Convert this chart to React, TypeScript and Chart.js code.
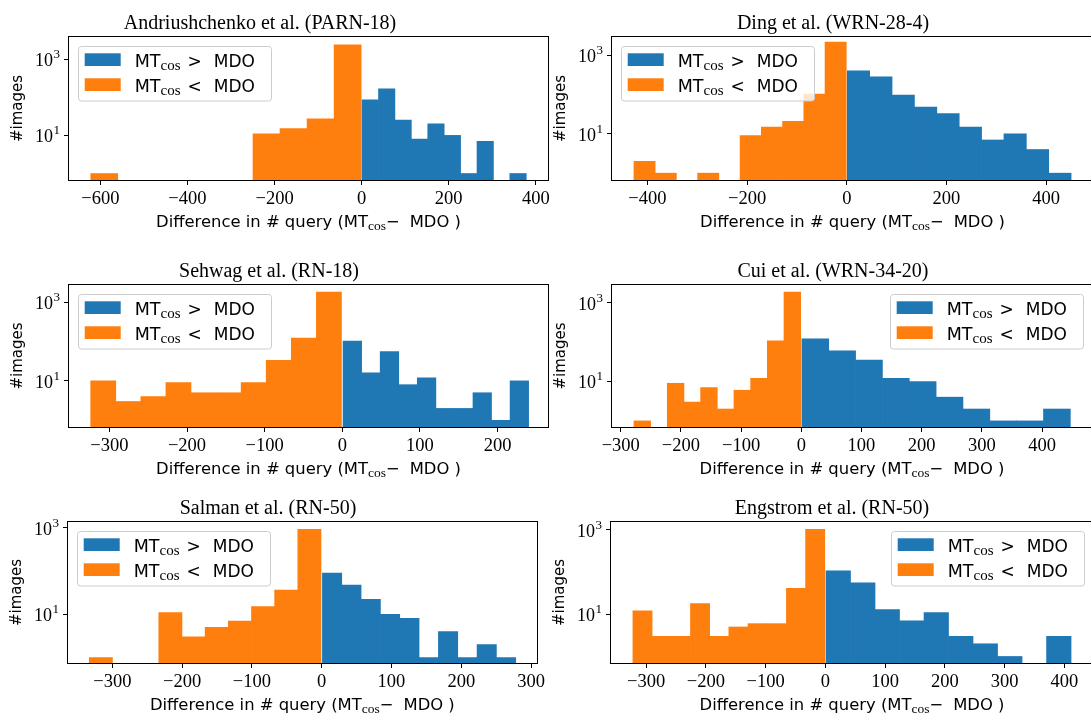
import React, { useEffect, useRef } from 'react';
import { Chart, registerables } from 'chart.js';

Chart.register(...registerables);

const BLUE = '#1f77b4';
const ORANGE = '#ff7f0e';
const SANS = "'DejaVu Sans'";
const SERIF = "'Liberation Serif'";

const panelTitles = [
  'Andriushchenko et al. (PARN-18)',
  'Ding et al. (WRN-28-4)',
  'Sehwag et al. (RN-18)',
  'Cui et al. (WRN-34-20)',
  'Salman et al. (RN-50)',
  'Engstrom et al. (RN-50)',
];

// ---- Panel 1: Andriushchenko et al. (PARN-18)
const p1NegBins = [-591.0, -528.9, -466.8, -404.7, -342.6, -280.5, -218.4, -156.3, -94.2, -32.1];
const p1NegCounts = [1, 0, 0, 0, 0, 0, 11, 15, 27, 2374];
const p1PosBins = [19.9, 57.6, 95.3, 133.0, 170.7, 208.4, 246.1, 283.8, 321.5, 359.2];
const p1PosCounts = [86, 167, 25, 8, 20, 10, 1, 7, 0, 1];
const p1XTicks = [-600, -400, -200, 0, 200, 400];

// ---- Panel 2: Ding et al. (WRN-28-4)
const p2NegBins = [-405.7, -363.1, -320.5, -277.9, -235.3, -192.7, -150.1, -107.5, -64.9, -22.3];
const p2NegCounts = [2, 1, 0, 1, 0, 9, 15, 21, 103, 2163];
const p2PosBins = [23.5, 68.4, 113.3, 158.2, 203.1, 248.0, 292.9, 337.8, 382.7, 427.6];
const p2PosCounts = [403, 282, 97, 48, 33, 15, 7, 10, 4, 1];
const p2XTicks = [-400, -200, 0, 200, 400];

// ---- Panel 3: Sehwag et al. (RN-18)
const p3NegBins = [-307.9, -275.6, -243.3, -211.0, -178.7, -146.4, -114.1, -81.8, -49.5, -17.2];
const p3NegCounts = [10, 3, 4, 9, 5, 5, 9, 33, 121, 1795];
const p3PosBins = [13.0, 36.9, 60.8, 84.7, 108.6, 132.5, 156.4, 180.3, 204.2, 228.1];
const p3PosCounts = [102, 16, 55, 8, 12, 2, 2, 5, 1, 10];
const p3XTicks = [-300, -200, -100, 0, 100, 200];

// ---- Panel 4: Cui et al. (WRN-34-20)
const p4NegBins = [-264.2, -236.5, -208.8, -181.1, -153.4, -125.7, -98.0, -70.3, -42.6, -14.9];
const p4NegCounts = [1, 0, 9, 3, 7, 2, 6, 12, 107, 1862];
const p4PosBins = [23.3, 67.9, 112.5, 157.1, 201.7, 246.3, 290.9, 335.5, 380.1, 424.7];
const p4PosCounts = [120, 60, 35, 12, 10, 4, 2, 1, 1, 2];
const p4XTicks = [-300, -200, -100, 0, 100, 200, 300, 400];

// ---- Panel 5: Salman et al. (RN-50)
const p5NegBins = [-316.4, -283.2, -250.0, -216.8, -183.6, -150.4, -117.2, -84.0, -50.8, -17.6];
const p5NegCounts = [1, 0, 0, 11, 3, 5, 7, 15, 36, 915];
const p5PosBins = [14.9, 42.6, 70.3, 98.0, 125.7, 153.4, 181.1, 208.8, 236.5, 264.2];
const p5PosCounts = [89, 47, 22, 10, 8, 1, 4, 1, 2, 1];
const p5XTicks = [-300, -200, -100, 0, 100, 200, 300];

// ---- Panel 6: Engstrom et al. (RN-50)
const p6NegBins = [-306.0, -273.9, -241.8, -209.7, -177.6, -145.5, -113.4, -81.3, -49.2, -17.1];
const p6NegCounts = [12, 3, 3, 18, 3, 5, 6, 6, 41, 1036];
const p6PosBins = [21.5, 62.5, 103.5, 144.5, 185.5, 226.5, 267.5, 308.5, 349.5, 390.5];
const p6PosCounts = [107, 56, 13, 7, 11, 3, 2, 1, 0, 3];
const p6XTicks = [-300, -200, -100, 0, 100, 200, 300, 400];

// y ticks: 10^1 and 10^3 (base and exponent drawn as real text)
const yTickValues = [10, 1000];
const yTickBase = ['10', '10'];
const yTickExp = ['1', '3'];
const seriesLabels = ['MT_cos > MDO', 'MT_cos < MDO'];

// layout (pixels) – style only
const Y_W = 66;
const T_PAD = 37;
const X_H = 55;
const R_PAD = 6;

type Seg = { t?: string; font?: string; dy?: number; gap?: number };
const legendSegs: Seg[][] = [
  [
    { t: 'MT', font: `17.5px ${SANS}` },
    { t: 'cos', font: `15px ${SERIF}`, dy: 3 },
    { gap: 7 },
    { t: '>', font: `17px ${SANS}` },
    { gap: 12 },
    { t: 'MDO', font: `17px ${SANS}` },
  ],
  [
    { t: 'MT', font: `17.5px ${SANS}` },
    { t: 'cos', font: `15px ${SERIF}`, dy: 3 },
    { gap: 7 },
    { t: '<', font: `17px ${SANS}` },
    { gap: 12 },
    { t: 'MDO', font: `17px ${SANS}` },
  ],
];
const xLabelSegs: Seg[] = [
  { t: 'Difference in # query (MT', font: `16.4px ${SANS}` },
  { t: 'cos', font: `13.5px ${SERIF}`, dy: 3 },
  { t: '\u2212', font: `16.4px ${SANS}` },
  { gap: 10 },
  { t: 'MDO )', font: `16.4px ${SANS}` },
];

const panels = [
  { title: panelTitles[0], neg: p1NegBins, negC: p1NegCounts, pos: p1PosBins, posC: p1PosCounts, xTicks: p1XTicks,
    xMin: -672, xMax: 428, yMin: 0.676, yMax: 3800, plot: { l: 69, t: 37, r: 548, b: 180 }, legend: 'ul', titleDx: 191 },
  { title: panelTitles[1], neg: p2NegBins, negC: p2NegCounts, pos: p2PosBins, posC: p2PosCounts, xTicks: p2XTicks,
    xMin: -471, xMax: 494, yMin: 0.67, yMax: 2930, plot: { l: 612, t: 37, r: 1093, b: 180 }, legend: 'ul', titleDx: 221 },
  { title: panelTitles[2], neg: p3NegBins, negC: p3NegCounts, pos: p3PosBins, posC: p3PosCounts, xTicks: p3XTicks,
    xMin: -352, xMax: 265, yMin: 0.676, yMax: 2700, plot: { l: 69, t: 285, r: 548, b: 427 }, legend: 'ul', titleDx: 200 },
  { title: panelTitles[3], neg: p4NegBins, negC: p4NegCounts, pos: p4PosBins, posC: p4PosCounts, xTicks: p4XTicks,
    xMin: -314.5, xMax: 483, yMin: 0.72, yMax: 2800, plot: { l: 612, t: 285, r: 1092, b: 427 }, legend: 'ur', titleDx: 221 },
  { title: panelTitles[4], neg: p5NegBins, negC: p5NegCounts, pos: p5PosBins, posC: p5PosCounts, xTicks: p5XTicks,
    xMin: -363.5, xMax: 308, yMin: 0.75, yMax: 1345, plot: { l: 68, t: 522, r: 542, b: 663 }, legend: 'ul', titleDx: 200 },
  { title: panelTitles[5], neg: p6NegBins, negC: p6NegCounts, pos: p6PosBins, posC: p6PosCounts, xTicks: p6XTicks,
    xMin: -358.7, xMax: 447.7, yMin: 0.74, yMax: 1540, plot: { l: 611, t: 522, r: 1093, b: 663 }, legend: 'ur', titleDx: 221 },
];

function segWidth(ctx: CanvasRenderingContext2D, s: Seg) {
  if (s.gap) return s.gap;
  ctx.font = s.font as string;
  return ctx.measureText(s.t as string).width;
}
function drawSegs(ctx: CanvasRenderingContext2D, segs: Seg[], x: number, y: number, center: boolean) {
  const total = segs.reduce((w, s) => w + segWidth(ctx, s), 0);
  let cx = center ? x - total / 2 : x;
  ctx.textAlign = 'left';
  ctx.textBaseline = 'alphabetic';
  for (const s of segs) {
    const w = segWidth(ctx, s);
    if (s.t) {
      ctx.font = s.font as string;
      ctx.fillText(s.t, cx, y + (s.dy || 0));
    }
    cx += w;
  }
}

const decorPlugin = {
  id: 'decor',
  afterDraw(chart: any, _args: any, o: any) {
    const ctx: CanvasRenderingContext2D = chart.ctx;
    const a = chart.chartArea;
    const yScale = chart.scales.y;
    ctx.save();
    // axes frame
    ctx.strokeStyle = '#000';
    ctx.lineWidth = 1;
    ctx.strokeRect(Math.round(a.left) - 0.5, Math.round(a.top) - 0.5, Math.round(a.right - a.left) + 1, Math.round(a.bottom - a.top) + 1);
    ctx.fillStyle = '#000';
    // y tick labels 10^k, positioned by the log scale
    yTickValues.forEach((v, i) => {
      const py = yScale.getPixelForValue(v);
      ctx.textAlign = 'left';
      ctx.textBaseline = 'alphabetic';
      ctx.font = `13px ${SERIF}`;
      const we = ctx.measureText(yTickExp[i]).width;
      ctx.font = `18px ${SERIF}`;
      const wb = ctx.measureText(yTickBase[i]).width;
      const right = a.left - 9;
      const xe = right - we;
      const xb = xe - wb - 0.5;
      ctx.fillText(yTickBase[i], xb, py + 7);
      ctx.font = `13px ${SERIF}`;
      ctx.fillText(yTickExp[i], xe, py - 1);
    });
    // title
    ctx.font = `20px ${SERIF}`;
    ctx.textAlign = 'center';
    ctx.textBaseline = 'alphabetic';
    ctx.fillText(o.title, a.left + o.titleDx, a.top - 8);
    // y-axis title
    ctx.save();
    ctx.translate(a.left - 51, (a.top + a.bottom) / 2);
    ctx.rotate(-Math.PI / 2);
    ctx.font = `15px ${SANS}`;
    ctx.textAlign = 'center';
    ctx.textBaseline = 'middle';
    ctx.fillText('#images', 0, 0);
    ctx.restore();
    // x-axis title
    drawSegs(ctx, xLabelSegs, (a.left + a.right) / 2, a.bottom + 47, true);
    // legend
    const bw = 193;
    const bh = 54.5;
    const bx = o.legend === 'ul' ? a.left + 9 : a.right - 9 - bw;
    const by = a.top + 9;
    ctx.beginPath();
    (ctx as any).roundRect(bx + 0.5, by + 0.5, bw, bh, 3);
    ctx.fillStyle = 'rgba(255,255,255,0.8)';
    ctx.fill();
    ctx.strokeStyle = '#cccccc';
    ctx.stroke();
    chart.data.datasets.forEach((ds: any, i: number) => {
      ctx.fillStyle = ds.backgroundColor;
      ctx.fillRect(bx + 6.7, by + 7.3 + i * 25, 36, 12.7);
      ctx.fillStyle = '#000';
      drawSegs(ctx, legendSegs[i], bx + 56.7, by + 20.6 + i * 25, false);
    });
    ctx.restore();
  },
};

const fmtX = (v: number) => (v < 0 ? '\u2212' + Math.abs(v) : String(v));

function makeConfig(p: any): any {
  const tickGrid = {
    display: true,
    offset: false,
    drawOnChartArea: false,
    drawTicks: true,
    tickLength: 5,
    tickWidth: 1,
    tickColor: '#000',
  };
  return {
    type: 'bar',
    data: {
      datasets: [
        {
          label: seriesLabels[0],
          data: p.pos.map((x: number, i: number) => ({ x, y: p.posC[i] > 0 ? p.posC[i] : null })),
          backgroundColor: BLUE,
          xAxisID: 'x',
          yAxisID: 'y',
          barPercentage: 1,
          categoryPercentage: 1,
          grouped: false,
          borderWidth: 0,
        },
        {
          label: seriesLabels[1],
          data: p.neg.map((x: number, i: number) => ({ x, y: p.negC[i] > 0 ? p.negC[i] : null })),
          backgroundColor: ORANGE,
          xAxisID: 'x2',
          yAxisID: 'y',
          barPercentage: 1,
          categoryPercentage: 1,
          grouped: false,
          borderWidth: 0,
        },
      ],
    },
    options: {
      animation: false,
      responsive: false,
      maintainAspectRatio: false,
      layout: { padding: { left: 0, top: T_PAD, right: R_PAD, bottom: 0 }, autoPadding: false },
      plugins: {
        legend: { display: false },
        title: { display: false },
        tooltip: { enabled: false },
        decor: { title: p.title, titleDx: p.titleDx, legend: p.legend },
      },
      scales: {
        x: {
          type: 'linear',
          position: 'bottom',
          min: p.xMin,
          max: p.xMax,
          offset: false,
          grid: tickGrid,
          border: { display: false },
          ticks: {
            color: '#000',
            font: { family: SERIF, size: 18.5 },
            padding: 3,
            autoSkip: false,
            maxRotation: 0,
            minRotation: 0,
            callback: (v: number) => fmtX(v),
          },
          afterBuildTicks: (s: any) => {
            s.ticks = p.xTicks.map((v: number) => ({ value: v }));
          },
          afterFit: (s: any) => {
            s.height = X_H;
          },
        },
        x2: {
          type: 'linear',
          position: 'bottom',
          display: false,
          min: p.xMin,
          max: p.xMax,
          offset: false,
          grid: { offset: false },
          afterBuildTicks: (s: any) => {
            s.ticks = p.xTicks.map((v: number) => ({ value: v }));
          },
        },
        y: {
          type: 'logarithmic',
          position: 'left',
          min: p.yMin,
          max: p.yMax,
          grid: tickGrid,
          border: { display: false },
          ticks: { display: false },
          afterBuildTicks: (s: any) => {
            s.ticks = yTickValues.map((v) => ({ value: v }));
          },
          afterFit: (s: any) => {
            s.width = Y_W;
          },
        },
      },
    },
    plugins: [decorPlugin],
  };
}

function Panel({ p }: { p: any }) {
  const ref = useRef<HTMLCanvasElement>(null);
  const W = Y_W + (p.plot.r - p.plot.l) + R_PAD;
  const H = T_PAD + (p.plot.b - p.plot.t) + X_H;
  useEffect(() => {
    const chart = new Chart(ref.current as HTMLCanvasElement, makeConfig(p));
    return () => chart.destroy();
  }, []);
  return (
    <canvas
      ref={ref}
      width={W}
      height={H}
      style={{ position: 'absolute', left: p.plot.l - Y_W, top: p.plot.t - T_PAD, width: W, height: H }}
    />
  );
}

export default function App() {
  return (
    <div
      style={{
        position: 'fixed',
        left: 0,
        top: 0,
        width: 1091,
        height: 715,
        overflow: 'hidden',
        background: '#fff',
      }}
    >
      {panels.map((p, i) => (
        <Panel key={i} p={p} />
      ))}
    </div>
  );
}
